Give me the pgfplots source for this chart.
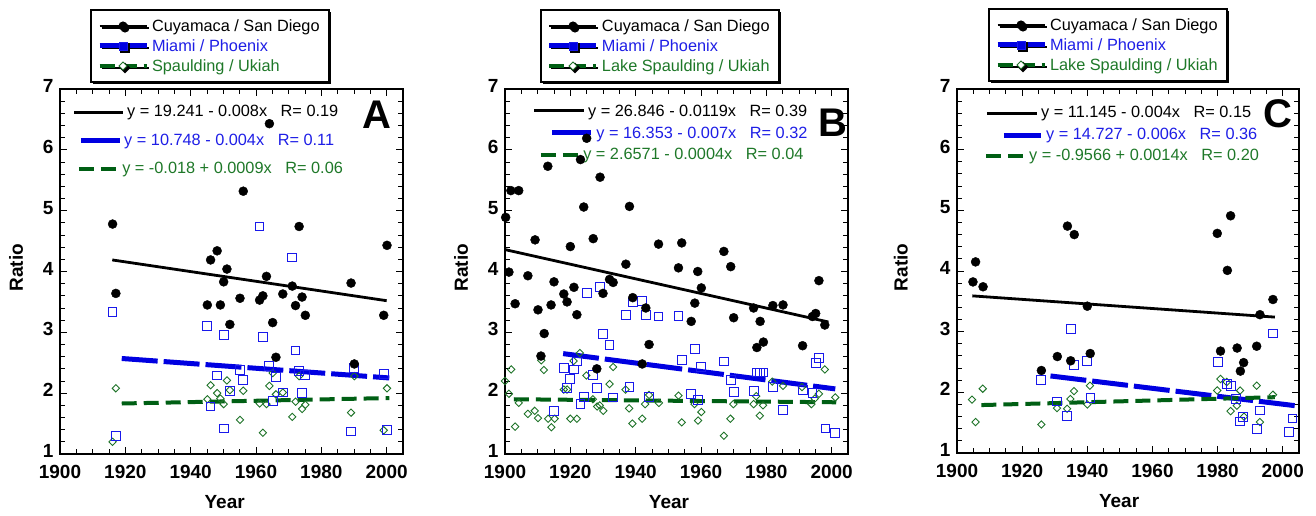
\documentclass[border=0pt]{standalone}
\usepackage{fontspec}
\setmainfont{Liberation Sans}
\usepackage{pgfplots}
\pgfplotsset{compat=1.18}
\usetikzlibrary{shadows}
\definecolor{lblue}{RGB}{0,0,225}
\definecolor{sblue}{RGB}{25,25,235}
\definecolor{tblue}{RGB}{30,30,230}
\definecolor{lgreen}{RGB}{0,95,20}
\definecolor{sgreen}{RGB}{30,115,40}
\definecolor{tgreen}{RGB}{30,120,40}
\newcommand{\sixteen}{\fontsize{16.3}{18}\selectfont}
\newcommand{\bigbold}{\fontsize{19}{21}\selectfont\bfseries}
\pgfplotsset{
  panel/.style={
    scale only axis, width=343pt, height=365pt,
    xmin=1900, xmax=2005, ymin=1, ymax=7,
    xtick={1900,1920,...,2000}, minor x tick num=3,
    ytick={1,2,...,7}, minor y tick num=4,
    tick align=inside,
    major tick length=7pt, minor tick length=5pt,
    every tick/.style={black, line width=0.9pt},
    axis line style={line width=1.5pt},
    /pgf/number format/assume math mode=true,
    /pgf/number format/1000 sep={},
    ticklabel style={font=\bigbold},
    xticklabel style={yshift=-8pt},
    yticklabel style={xshift=-3pt, yshift=3pt},
    label style={font=\bigbold},
    xlabel={Year}, ylabel={Ratio},
    clip=false,
    legend cell align=left,
    legend style={draw=black, line width=2pt, fill=white,
      drop shadow={shadow xshift=2pt, shadow yshift=-2pt, opacity=1, fill=black},
      inner xsep=6pt, inner ysep=6pt, font=\sixteen,
      row sep=0pt,
      nodes={inner ysep=0pt, inner xsep=3pt, text height=16pt, text depth=4pt}},
  },
  blk/.style={only marks, mark=*, mark size=4.5pt, black, forget plot},
  blu/.style={only marks, mark=square, mark size=4.4pt, sblue, mark options={line width=1pt}, forget plot},
  grn/.style={only marks, mark=square, mark size=2.6pt, sgreen, mark options={rotate=45, line width=0.9pt}, forget plot},
  blkline/.style={black, line width=2.8pt, forget plot},
  bluline/.style={lblue, line width=5pt, dash pattern=on 36pt off 6pt, forget plot},
  grnline/.style={lgreen, line width=4pt, dash pattern=on 15pt off 7pt, forget plot},
  legblk/.style={legend image code/.code={
      \draw[black, line width=2.8pt] (0pt,0pt) -- (47pt,0pt);
      \fill[black] (23.5pt,0pt) circle (3.5pt);}},
  legblu/.style={legend image code/.code={
      \draw[lblue, line width=5pt] (0pt,0pt) -- (47pt,0pt);
      \draw[sblue, line width=0.9pt, fill=lblue] (19.5pt,-4pt) rectangle (27.5pt,4pt);}},
  leggrn/.style={legend image code/.code={
      \draw[lgreen, line width=4pt, dash pattern=on 15pt off 7pt] (0pt,0pt) -- (47pt,0pt);
      \draw[sgreen, line width=0.9pt, fill=white] (19.5pt,0pt) -- (23.5pt,4pt) -- (27.5pt,0pt) -- (23.5pt,-4pt) -- cycle;}},
}
\begin{document}
\begin{tikzpicture}
\path[use as bounding box] (0,0) rectangle (1316pt,516pt);
% ---------------- Panel A ----------------
\begin{axis}[panel, at={(60pt,62pt)}, anchor=south west,
  xlabel style={at={(axis description cs:0.48,-0.1315)}, anchor=center},
  ylabel style={at={(axis description cs:-0.128,0.51)}, anchor=center},
  legend style={at={(axis description cs:0.0875,1)}, anchor=south west, yshift=6pt}]
\addlegendimage{legblk}\addlegendentry{Cuyamaca / San Diego}
\addlegendimage{legblu}\addlegendentry{\textcolor{tblue}{Miami / Phoenix}}
\addlegendimage{leggrn}\addlegendentry{\textcolor{tgreen}{Spaulding / Ukiah}}
\addplot[grn] coordinates {
(1916.1,1.20) (1917.1,2.08) (1945.1,1.90) (1946.1,2.13) (1948.1,2.00) (1949.1,1.91)
(1950.1,1.82) (1951.1,2.21) (1952.0,2.05) (1955.1,1.56) (1956.1,2.04) (1961.1,1.83)
(1962.1,1.35) (1963.2,1.82) (1964.1,2.12) (1965.1,2.33) (1966.1,1.98) (1968.2,2.01)
(1971.1,1.61) (1972.1,1.86) (1973.2,2.28) (1974.1,1.74) (1975.1,1.81) (1989.1,1.68)
(1990.1,2.28) (1999.1,1.39) (2000.1,2.08)};
\addplot[blu] coordinates {
(1916.1,3.34) (1917.1,1.29) (1945.1,3.11) (1946.1,1.78) (1948.1,2.29) (1950.1,2.96)
(1950.1,1.42) (1952.0,2.03) (1955.1,2.38) (1956.1,2.21) (1961.1,4.74) (1962.1,2.92)
(1964.1,2.44) (1965.1,1.87) (1966.1,2.26) (1968.2,2.01) (1971.1,4.23) (1972.1,2.70)
(1973.2,2.37) (1974.1,2.00) (1975.1,2.30) (1989.1,1.37) (1990.1,2.42) (1999.1,2.31)
(2000.1,1.39)};
\addplot[blk] coordinates {
(1916.1,4.78) (1917.1,3.64) (1945.1,3.45) (1946.1,4.19) (1948.1,4.34) (1949.1,3.45)
(1950.1,3.83) (1951.1,4.04) (1952.0,3.13) (1955.1,3.56) (1956.1,5.32) (1961.1,3.53)
(1962.1,3.60) (1963.2,3.92) (1964.1,6.43) (1965.1,3.16) (1966.1,2.59) (1968.2,3.63)
(1971.1,3.76) (1972.1,3.44) (1973.2,4.74) (1974.1,3.58) (1975.1,3.28) (1989.1,3.81)
(1990.1,2.48) (1999.1,3.28) (2000.1,4.43)};
\addplot[blkline] coordinates {(1916,4.19) (2000,3.52)};
\addplot[bluline] coordinates {(1918.9,2.57) (2000.8,2.25)};
\addplot[grnline] coordinates {(1918.9,1.83) (2000.8,1.92)};
\draw[black, line width=2.8pt] (axis cs:1904.3,6.62) -- (axis cs:1919.3,6.62);
\node[anchor=west, inner sep=0pt, font=\sixteen] at (axis cs:1920.5,6.62) {y = 19.241 - 0.008x\ \ \ R= 0.19};
\draw[lblue, line width=5pt] (axis cs:1906.4,6.16) -- (axis cs:1918.4,6.16);
\node[anchor=west, inner sep=0pt, font=\sixteen, text=tblue] at (axis cs:1919.6,6.13) {y = 10.748 - 0.004x\ \ \ R= 0.11};
\draw[lgreen, line width=4pt, dash pattern=on 15pt off 7pt] (axis cs:1905.8,5.69) -- (axis cs:1917.4,5.69);
\node[anchor=west, inner sep=0pt, font=\sixteen, text=tgreen] at (axis cs:1919.0,5.67) {y = -0.018 + 0.0009x\ \ \ R= 0.06};
\node[font=\fontsize{40}{40}\selectfont\bfseries, inner sep=0pt] at (axis cs:1997.0,6.57) {A};
\end{axis}
% ---------------- Panel B ----------------
\begin{axis}[panel, at={(505pt,62pt)}, anchor=south west,
  xlabel style={at={(axis description cs:0.478,-0.1315)}, anchor=center},
  ylabel style={at={(axis description cs:-0.128,0.51)}, anchor=center},
  legend style={at={(axis description cs:0.102,1)}, anchor=south west, yshift=6pt}]
\addlegendimage{legblk}\addlegendentry{Cuyamaca / San Diego}
\addlegendimage{legblu}\addlegendentry{\textcolor{tblue}{Miami / Phoenix}}
\addlegendimage{leggrn}\addlegendentry{\textcolor{tgreen}{Lake Spaulding / Ukiah}}
\addplot[grn] coordinates {
(1900.0,2.20) (1901.9,2.39) (1901.2,1.99) (1903.1,1.45) (1904.2,1.84) (1907.0,1.66)
(1909.1,1.71) (1910.1,1.59) (1911.1,2.54) (1911.9,2.38) (1913.2,1.58) (1914.2,1.44)
(1915.2,1.58) (1918.0,2.06) (1919.0,2.06) (1920.0,1.58) (1921.0,2.53) (1922.0,1.58)
(1922.9,2.66) (1924.9,2.29) (1926.9,1.90) (1928.2,1.78) (1929.0,1.80) (1930.1,1.71)
(1932.0,2.15) (1933.1,2.43) (1936.9,2.06) (1938.0,1.75) (1939.0,1.50) (1942.0,1.58)
(1942.9,1.82) (1944.1,1.97) (1947.1,1.84) (1953.1,1.96) (1954.1,1.52) (1958.0,1.82)
(1959.1,1.55) (1960.1,1.69) (1967.0,1.30) (1969.0,1.58) (1969.9,1.82) (1976.1,1.82)
(1976.9,1.95) (1978.0,1.63) (1979.0,1.80) (1981.8,2.19) (1985.1,2.12) (1990.9,2.10)
(1993.8,1.82) (1994.8,1.91) (1996.1,1.99) (1997.9,2.39) (2001.1,1.93)};
\addplot[blu] coordinates {
(1915.0,1.71) (1918.0,2.41) (1919.0,2.08) (1920.0,2.23) (1921.1,2.39) (1922.1,2.52)
(1923.1,1.82) (1924.1,1.94) (1925.1,3.64) (1927.0,2.30) (1928.1,2.09) (1929.1,3.75)
(1930.0,2.97) (1932.0,2.79) (1933.1,1.93) (1937.0,3.29) (1938.1,2.10) (1939.1,3.49)
(1942.0,3.51) (1943.1,3.29) (1944.1,1.94) (1947.0,3.26) (1953.1,3.27) (1954.1,2.54)
(1957.0,1.98) (1958.1,2.72) (1959.1,1.89) (1960.1,2.43) (1967.0,2.52) (1969.1,2.22)
(1970.0,2.02) (1976.1,2.03) (1977.1,2.34) (1978.1,2.34) (1979.1,2.34) (1982.0,2.10)
(1985.1,1.72) (1991.1,2.05) (1994.1,2.00) (1995.1,2.49) (1996.1,2.58) (1998.1,1.42)
(2001.1,1.35)};
\addplot[blk] coordinates {
(1900.2,4.89) (1901.2,3.99) (1901.8,5.33) (1903.1,3.47) (1904.2,5.33) (1907.0,3.93)
(1909.2,4.52) (1910.1,3.37) (1911.0,2.61) (1912.0,2.98) (1913.1,5.73) (1914.1,3.45)
(1915.0,3.83) (1918.0,3.63) (1919.0,3.50) (1920.0,4.41) (1921.1,3.74) (1922.0,3.29)
(1923.1,5.84) (1924.1,5.06) (1925.0,6.19) (1927.0,4.54) (1928.1,2.40) (1929.1,5.55)
(1930.0,3.64) (1932.0,3.87) (1933.1,3.82) (1937.0,4.12) (1938.1,5.07) (1939.1,3.57)
(1942.0,2.48) (1943.1,3.40) (1944.1,2.80) (1947.0,4.45) (1953.1,4.06) (1954.1,4.47)
(1957.0,3.18) (1958.1,3.48) (1959.0,4.00) (1960.1,3.73) (1967.0,4.33) (1969.1,4.08)
(1970.0,3.24) (1976.1,3.40) (1977.1,2.75) (1978.1,3.18) (1979.1,2.84) (1982.0,3.44)
(1985.1,3.45) (1991.1,2.78) (1994.1,3.26) (1995.1,3.31) (1996.1,3.85) (1997.9,3.12)};
\addplot[blkline] coordinates {(1900,4.36) (1999,3.17)};
\addplot[bluline] coordinates {(1917.8,2.65) (2001.1,2.07)};
\addplot[grnline] coordinates {(1902.7,1.90) (2001.4,1.85)};
\draw[black, line width=2.8pt] (axis cs:1908.9,6.64) -- (axis cs:1924.2,6.64);
\node[anchor=west, inner sep=0pt, font=\sixteen] at (axis cs:1925.4,6.62) {y = 26.846 - 0.0119x\ \ \ R= 0.39};
\draw[lblue, line width=5pt] (axis cs:1914.4,6.28) -- (axis cs:1926.3,6.28);
\node[anchor=west, inner sep=0pt, font=\sixteen, text=tblue] at (axis cs:1927.9,6.26) {y = 16.353 - 0.007x\ \ \ R= 0.32};
\draw[lgreen, line width=4pt, dash pattern=on 15pt off 7pt] (axis cs:1911.0,5.92) -- (axis cs:1922.3,5.92);
\node[anchor=west, inner sep=0pt, font=\sixteen, text=tgreen] at (axis cs:1923.9,5.90) {y = 2.6571 - 0.0004x\ \ \ R= 0.04};
\node[font=\fontsize{40}{40}\selectfont\bfseries, inner sep=0pt] at (axis cs:2000.4,6.44) {B};
\end{axis}
% ---------------- Panel C ----------------
\begin{axis}[panel, at={(957pt,63pt)}, anchor=south west, width=342pt, height=364pt,
  xlabel style={at={(axis description cs:0.474,-0.1315)}, anchor=center},
  ylabel style={at={(axis description cs:-0.164,0.51)}, anchor=center},
  legend style={at={(axis description cs:0.0906,1)}, anchor=south west, yshift=7pt}]
\addlegendimage{legblk}\addlegendentry{Cuyamaca / San Diego}
\addlegendimage{legblu}\addlegendentry{\textcolor{tblue}{Miami / Phoenix}}
\addlegendimage{leggrn}\addlegendentry{\textcolor{tgreen}{Lake Spaulding / Ukiah}}
\addplot[grn] coordinates {
(1904.6,1.88) (1905.7,1.51) (1907.9,2.06) (1925.9,1.47) (1930.7,1.74) (1933.8,1.73)
(1934.8,1.89) (1935.9,2.02) (1940.0,1.80) (1940.8,2.11) (1979.9,2.03) (1980.9,2.22)
(1982.8,2.17) (1984.0,1.69) (1985.9,1.78) (1986.9,2.03) (1988.1,1.60) (1992.0,2.11)
(1993.0,1.51) (1997.0,1.96)};
\addplot[blu] coordinates {
(1925.8,2.20) (1930.7,1.85) (1933.8,1.61) (1935.0,3.04) (1935.9,2.45) (1940.0,2.51)
(1941.0,1.90) (1980.1,2.50) (1982.8,2.14) (1984.0,2.10) (1985.6,1.89) (1986.9,1.52)
(1987.9,1.59) (1992.0,1.40) (1993.0,1.70) (1997.0,2.97) (2001.9,1.34) (2003.0,1.57)};
\addplot[blk] coordinates {
(1904.9,3.82) (1905.7,4.15) (1908.0,3.74) (1925.9,2.36) (1930.8,2.59) (1933.9,4.74)
(1934.9,2.52) (1936.0,4.60) (1940.0,3.42) (1940.9,2.64) (1979.9,4.62) (1980.9,2.68)
(1983.0,4.01) (1984.0,4.91) (1986.0,2.73) (1987.0,2.35) (1988.0,2.49) (1992.0,2.76)
(1993.0,3.28) (1997.0,3.53)};
\addplot[blkline] coordinates {(1904.7,3.59) (1997.6,3.24)};
\addplot[bluline] coordinates {(1928.7,2.27) (2003.8,1.78)};
\addplot[grnline] coordinates {(1907.5,1.79) (1997.6,1.92)};
\draw[black, line width=2.8pt] (axis cs:1909.2,6.60) -- (axis cs:1924.6,6.60);
\node[anchor=west, inner sep=0pt, font=\sixteen] at (axis cs:1925.8,6.60) {y = 11.145 - 0.004x\ \ \ R= 0.15};
\draw[lblue, line width=5pt] (axis cs:1914.4,6.24) -- (axis cs:1925.8,6.24);
\node[anchor=west, inner sep=0pt, font=\sixteen, text=tblue] at (axis cs:1927.3,6.24) {y = 14.727 - 0.006x\ \ \ R= 0.36};
\draw[lgreen, line width=4pt, dash pattern=on 15pt off 7pt] (axis cs:1908.9,5.90) -- (axis cs:1920.6,5.90);
\node[anchor=west, inner sep=0pt, font=\sixteen, text=tgreen] at (axis cs:1922.1,5.88) {y = -0.9566 + 0.0014x\ \ \ R= 0.20};
\node[font=\fontsize{40}{40}\selectfont\bfseries, inner sep=0pt] at (axis cs:1998.6,6.60) {C};
\end{axis}
\end{tikzpicture}
\end{document}
